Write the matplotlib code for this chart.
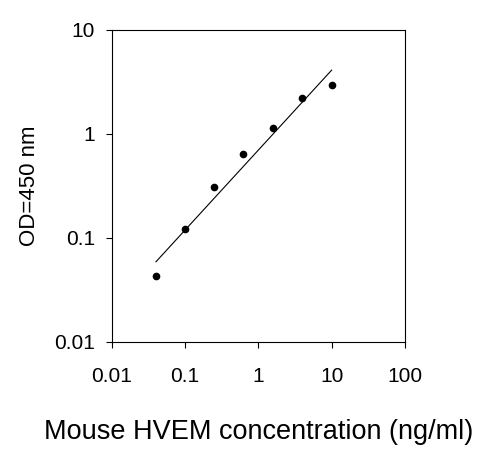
import matplotlib
matplotlib.use("Agg")
import matplotlib.pyplot as plt
import numpy as np

plt.rcParams['font.family'] = ['Liberation Sans', 'DejaVu Sans']

conc = [0.04, 0.1, 0.25, 0.625, 1.56, 3.9, 10]
od = [0.043, 0.122, 0.31, 0.64, 1.14, 2.22, 2.96]
fit_x = [0.04, 10]
fit_y = [0.059, 4.1]
xticks = [0.01, 0.1, 1, 10, 100]
xlabels = ['0.01', '0.1', '1', '10', '100']
yticks = [0.01, 0.1, 1, 10]
ylabels = ['0.01', '0.1', '1', '10']

fig = plt.figure(figsize=(4.95, 4.59), dpi=100)
ax = fig.add_axes([0.226, 0.255, 0.592, 0.68])
lx = np.logspace(np.log10(fit_x[0]), np.log10(fit_x[1]), 50)
slope = np.log10(fit_y[1] / fit_y[0]) / np.log10(fit_x[1] / fit_x[0])
ly = fit_y[0] * (lx / fit_x[0]) ** slope
ax.plot(lx, ly, color='black', lw=0.8)
ax.plot(conc, od, 'o', color='black', ms=4.5)
ax.set_xscale('log'); ax.set_yscale('log')
ax.set_xlim(0.01, 100); ax.set_ylim(0.01, 10)
ax.set_xticks(xticks); ax.set_xticklabels(xlabels)
ax.set_yticks(yticks); ax.set_yticklabels(ylabels)
ax.minorticks_off()
ax.tick_params(labelsize=15, direction='out', length=4)
ax.tick_params(axis='x', pad=14)
ax.tick_params(axis='y', pad=8)
ax.set_xlabel('Mouse HVEM concentration (ng/ml)', fontsize=19.5, labelpad=24)
ax.set_ylabel('OD=450 nm', fontsize=16, labelpad=10)
fig.savefig('out.png', dpi=100)
